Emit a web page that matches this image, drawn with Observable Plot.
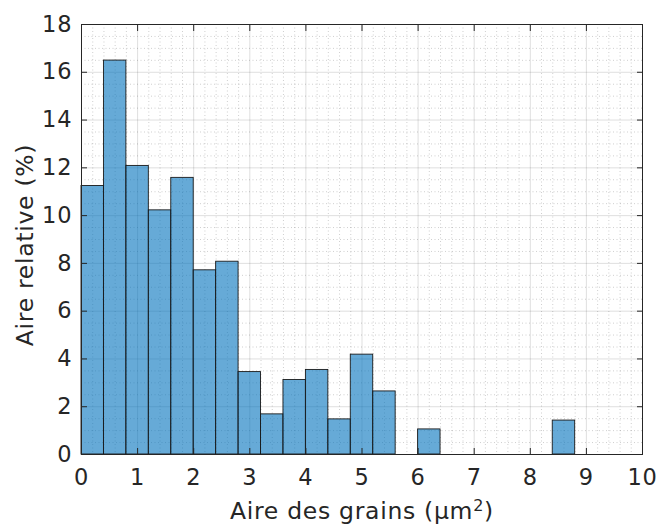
<!DOCTYPE html>
<html><head><meta charset="utf-8">
<script src="https://cdn.jsdelivr.net/npm/d3@7"></script>
<script src="https://cdn.jsdelivr.net/npm/@observablehq/plot@0.6"></script>
<style>body{margin:0;background:#fff}</style>
</head><body><div id="chart"></div>
<script>
// Histogram bin edges (µm²) and relative area (%) per bin
const binEdges = [0, 0.4, 0.8, 1.2, 1.6, 2.0, 2.4, 2.8, 3.2, 3.6, 4.0, 4.4, 4.8, 5.2, 5.6, 6.0, 6.4, 6.8, 7.2, 7.6, 8.0, 8.4, 8.8];
const relativeArea = [11.24, 16.49, 12.08, 10.22, 11.58, 7.71, 8.07, 3.45, 1.68, 3.12, 3.54, 1.47, 4.18, 2.64, 0, 1.05, 0, 0, 0, 0, 0, 1.42];
const xTicks = [0, 1, 2, 3, 4, 5, 6, 7, 8, 9, 10];
const yTicks = [0, 2, 4, 6, 8, 10, 12, 14, 16, 18];
const xMinor = d3.range(0, 50).map(i => i * 0.2).filter(v => Math.abs(v - Math.round(v)) > 1e-6);
const yMinor = d3.range(0, 36).map(i => i * 0.5).filter(v => Math.abs(v / 2 - Math.round(v / 2)) > 1e-6);
const xLabel = "Aire des grains (µm";
const yLabel = "Aire relative (%)";

const bins = relativeArea.map((v, i) => ({x1: binEdges[i], x2: binEdges[i + 1], y: v}));
const ink = "#262626";

const plot = Plot.plot({
  width: 657, height: 526,
  marginLeft: 81, marginRight: 15, marginTop: 24, marginBottom: 72,
  x: {domain: [0, 10]},
  y: {domain: [0, 18]},
  style: {fontFamily: "DejaVu Sans", fontSize: "22.5px", letterSpacing: "0.8px", color: ink, background: "white", overflow: "visible"},
  marks: [
    Plot.gridX(xMinor, {stroke: ink, strokeOpacity: 0.28, strokeDasharray: "1,2.5", strokeWidth: 0.8}),
    Plot.gridY(yMinor, {stroke: ink, strokeOpacity: 0.28, strokeDasharray: "1,2.5", strokeWidth: 0.8}),
    Plot.gridX(xTicks, {stroke: ink, strokeOpacity: 0.15}),
    Plot.gridY(yTicks, {stroke: ink, strokeOpacity: 0.15}),
    Plot.rectY(bins, {x1: "x1", x2: "x2", y1: 0, y2: "y", fill: "#0072BD", fillOpacity: 0.6, stroke: "#1a1a1a", strokeWidth: 0.9}),
    Plot.axisX(xTicks, {anchor: "bottom", tickSize: -6, tickPadding: 20.3, label: null}),
    Plot.axisX(xTicks, {anchor: "top", tickSize: -6, tickFormat: () => "", label: null}),
    Plot.axisY(yTicks, {anchor: "left", tickSize: -6, tickPadding: 15.2, label: null}),
    Plot.axisY(yTicks, {anchor: "right", tickSize: -6, tickFormat: () => "", label: null}),
    Plot.frame({stroke: ink, strokeWidth: 1})
  ]
});

const svg = d3.select(plot);
const xl = svg.append("text")
  .attr("x", 362).attr("y", 519.3)
  .attr("text-anchor", "middle")
  .attr("font-size", 23.5).attr("fill", ink)
  .attr("letter-spacing", "0.7px")
  .attr("font-family", "DejaVu Sans");
xl.append("tspan").text(xLabel);
xl.append("tspan").attr("dy", -8.6).attr("font-size", 16).text("2");
xl.append("tspan").attr("dy", 8.6).text(")");

svg.append("text")
  .attr("transform", "translate(33,245) rotate(-90)")
  .attr("text-anchor", "middle")
  .attr("font-size", 23.5).attr("fill", ink)
  .attr("letter-spacing", "0.7px")
  .attr("font-family", "DejaVu Sans")
  .text(yLabel);

document.getElementById("chart").appendChild(plot);
</script>
</body></html>
